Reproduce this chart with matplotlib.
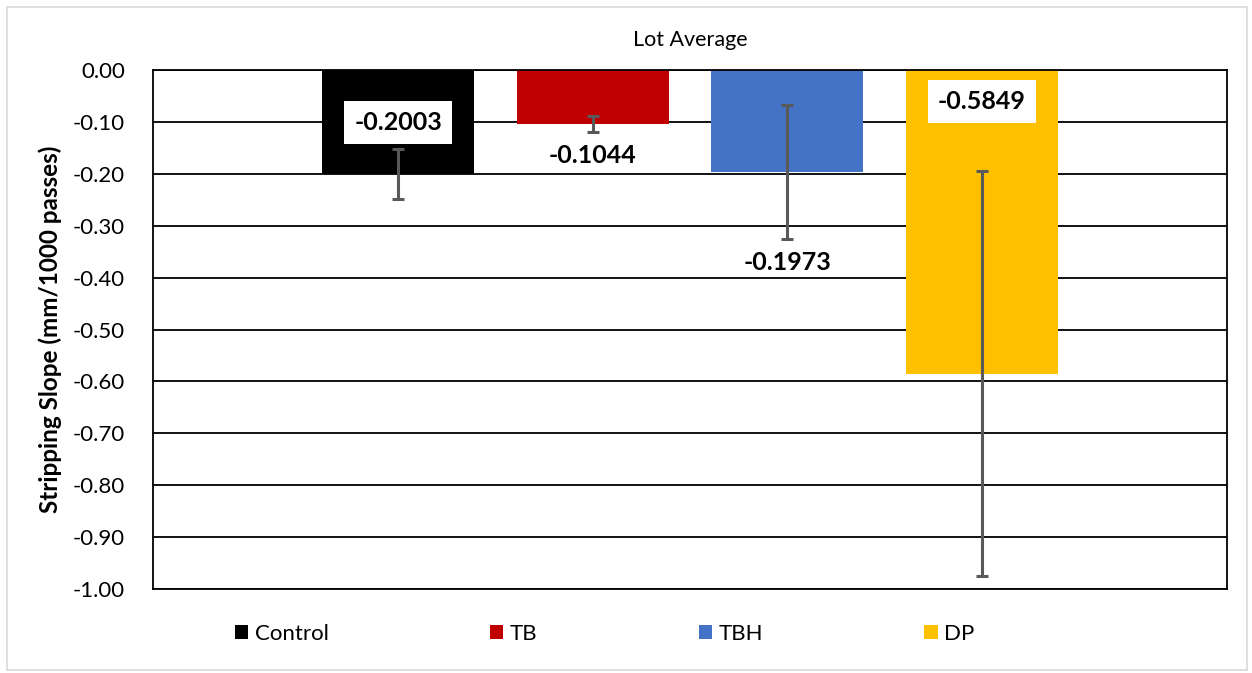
import matplotlib.pyplot as plt
from matplotlib.patches import Rectangle

plt.rcParams['font.family'] = ['Lato', 'DejaVu Sans']

# Data
series = ["Control", "TB", "TBH", "DP"]
slopes = [-0.2003, -0.1044, -0.1973, -0.5849]
errors = [0.049, 0.016, 0.129, 0.390]
colors = ["#000000", "#C00000", "#4472C4", "#FFC000"]
yticks = [0.0, -0.1, -0.2, -0.3, -0.4, -0.5, -0.6, -0.7, -0.8, -0.9, -1.0]


def plot_chart():
    fig = plt.figure(figsize=(12.52, 6.73), dpi=100)
    ax = fig.add_axes([0.1222, 0.1248, 0.8578, 0.7712])

    # light outer frame like the Excel chart area
    fig.patches.append(Rectangle((0.0056, 0.004), 0.9905, 0.986, transform=fig.transFigure,
                                 fill=False, edgecolor="#d9d9d9", linewidth=1.2))

    x = range(len(series))
    ax.bar(x, slopes, width=0.78, color=colors, label=series, zorder=2)
    ax.errorbar(x, slopes, yerr=errors, fmt="none", ecolor="#595959",
                elinewidth=2.2, capsize=4.5, capthick=2.2, zorder=3)

    # data labels (moved by hand in the original)
    label_y = [-0.102, -0.164, -0.371, -0.060]
    boxed = [True, False, False, True]
    for i, v in enumerate(slopes):
        kw = {}
        if boxed[i]:
            kw["bbox"] = dict(boxstyle="square,pad=0.4", facecolor="white", edgecolor="none")
        ax.text(i, label_y[i], f"{v:.4f}", ha="center", va="center",
                fontsize=18, fontweight="bold", color="black", zorder=4, **kw)

    ax.set_ylim(-1.0, 0.0)
    ax.set_xlim(-1.26, 4.26)
    ax.set_yticks(yticks)
    ax.set_yticklabels([f"{t:.2f}" for t in yticks], fontsize=16)
    ax.set_xticks([])
    ax.tick_params(axis="y", length=0, pad=20)
    ax.yaxis.grid(True, color="black", linewidth=1.3, zorder=0)
    ax.set_axisbelow(True)
    for s in ax.spines.values():
        s.set_color("black")
        s.set_linewidth(1.3)

    ax.set_ylabel("Stripping Slope (mm/1000 passes)", fontsize=17.5, fontweight="bold", labelpad=8)
    fig.text(0.551, 0.94, "Lot Average", ha="center", va="center", fontsize=15.5)

    fig.legend(loc="center", bbox_to_anchor=(0.483, 0.058), ncol=4, frameon=False,
               fontsize=16, handlelength=0.6, handleheight=0.6, handletextpad=0.3,
               columnspacing=7.25)

    fig.savefig("out.png", dpi=100)


plot_chart()
